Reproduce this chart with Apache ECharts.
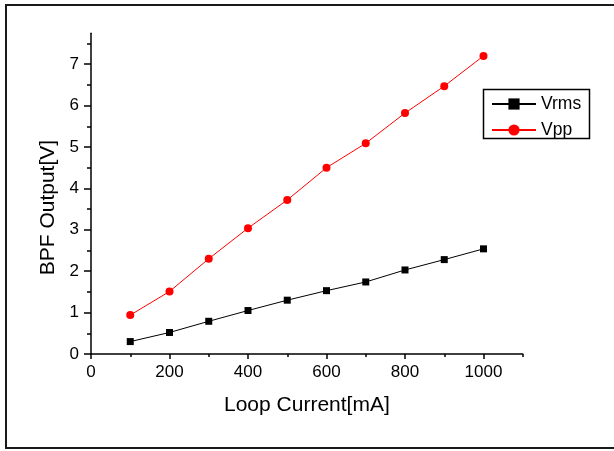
<!DOCTYPE html>
<html><head><meta charset="utf-8">
<script src="https://cdn.jsdelivr.net/npm/echarts@6/dist/echarts.min.js"></script>
<style>html,body{margin:0;padding:0;background:#fff}#c{width:614px;height:451px}</style>
</head><body><div id="c"></div>
<script>
const current = [100, 200, 300, 400, 500, 600, 700, 800, 900, 1000];
const vrms = [0.30, 0.52, 0.79, 1.05, 1.30, 1.53, 1.74, 2.03, 2.28, 2.54];
const vpp = [0.94, 1.51, 2.30, 3.04, 3.72, 4.50, 5.09, 5.82, 6.47, 7.20];
const xMajor = [0, 200, 400, 600, 800, 1000];
const xMinor = [100, 300, 500, 700, 900, 1100];
const yMajor = [0, 1, 2, 3, 4, 5, 6, 7];
const yMinor = [0.5, 1.5, 2.5, 3.5, 4.5, 5.5, 6.5, 7.5];

const FONT = 'Liberation Sans';
const chart = echarts.init(document.getElementById('c'));
const lineCol = '#000';
chart.setOption({
  animation: false,
  textStyle: {fontFamily: FONT},
  graphic: [
    {type: 'rect', shape: {x: 6, y: 5, width: 620, height: 443},
     style: {fill: 'none', stroke: '#1a1a1a', lineWidth: 2}, z: 100},
    {type: 'rect', shape: {x: 483.5, y: 89.5, width: 106, height: 49},
     style: {fill: '#fff', stroke: '#000', lineWidth: 1.5}, z: 5}
  ],
  grid: {left: 91, right: 91.25, top: 33.15, bottom: 97, containLabel: false},
  legend: {
    left: 483, top: 89, orient: 'vertical', z: 10,
    borderWidth: 0,
    padding: [6, 2, 6, 8], itemGap: 8, itemWidth: 44, itemHeight: 14,
    textStyle: {fontSize: 17.5, fontFamily: FONT, color: '#000'},
    data: ['Vrms', 'Vpp']
  },
  xAxis: [{
    type: 'value', min: 0, max: 1100, interval: 100, position: 'bottom',
    axisLine: {show: true, lineStyle: {color: lineCol, width: 1.5}},
    axisTick: {show: true, customValues: xMajor, length: 5, lineStyle: {color: lineCol, width: 1.5}},
    axisLabel: {customValues: xMajor, fontSize: 17, color: '#000', margin: 10, fontFamily: FONT,
      formatter: v => String(v)},
    splitLine: {show: false},
    name: 'Loop Current[mA]', nameLocation: 'middle', nameGap: 41,
    nameTextStyle: {fontSize: 21, color: '#000', fontFamily: FONT}
  }, {
    type: 'value', min: 0, max: 1100, interval: 100, position: 'bottom', gridIndex: 0,
    axisLine: {show: false},
    axisTick: {show: true, customValues: xMinor, length: 3, lineStyle: {color: lineCol, width: 1.5}},
    axisLabel: {show: false}, splitLine: {show: false}
  }],
  yAxis: [{
    type: 'value', min: 0, max: 7.75, interval: 1, position: 'left',
    axisLine: {show: true, lineStyle: {color: lineCol, width: 1.5}},
    axisTick: {show: true, customValues: yMajor, length: 7, lineStyle: {color: lineCol, width: 1.5}},
    axisLabel: {customValues: yMajor, fontSize: 17, color: '#000', margin: 12, fontFamily: FONT,
      formatter: v => String(v)},
    splitLine: {show: false},
    name: 'BPF Output[V]', nameLocation: 'middle', nameGap: 26,
    nameTextStyle: {fontSize: 21, color: '#000', fontFamily: FONT, padding: [0, 28, 0, 0]}
  }, {
    type: 'value', min: 0, max: 7.75, interval: 0.5, position: 'left', gridIndex: 0,
    axisLine: {show: false},
    axisTick: {show: true, customValues: yMinor, length: 4, lineStyle: {color: lineCol, width: 1.5}},
    axisLabel: {show: false}, splitLine: {show: false}
  }],
  series: [{
    name: 'Vrms', type: 'line', xAxisIndex: 0, yAxisIndex: 0,
    data: current.map((x, i) => [x, vrms[i]]),
    symbol: 'rect', symbolSize: 7,
    lineStyle: {color: '#000', width: 1}, itemStyle: {color: '#000'}
  }, {
    name: 'Vpp', type: 'line', xAxisIndex: 0, yAxisIndex: 0,
    data: current.map((x, i) => [x, vpp[i]]),
    symbol: 'circle', symbolSize: 8,
    lineStyle: {color: '#ff0000', width: 1}, itemStyle: {color: '#ff0000'}
  }]
});
</script></body></html>
